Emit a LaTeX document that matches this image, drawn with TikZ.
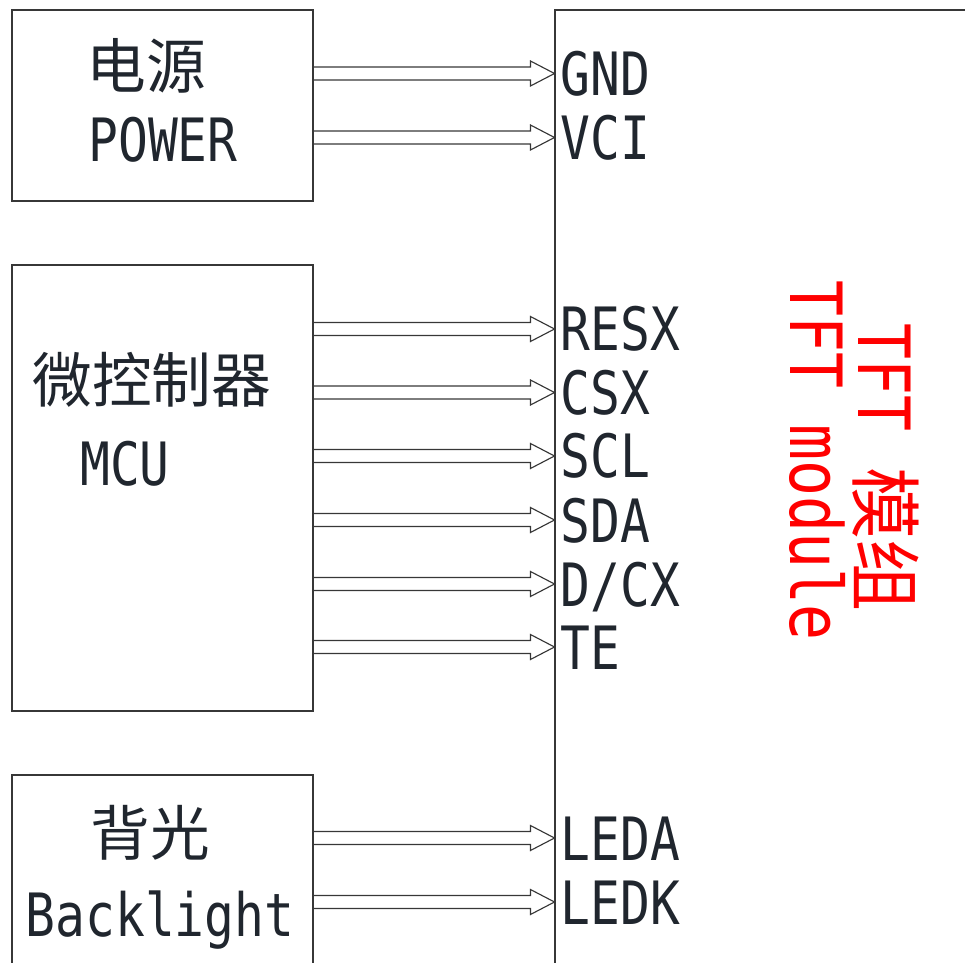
\documentclass[tikz,border=0pt]{standalone}
\usepackage{fontspec}
\usepackage{tikz}
\usetikzlibrary{calc,fit}
\definecolor{inkgray}{RGB}{32,38,46}
\definecolor{framegray}{RGB}{55,55,55}
\newfontfamily\monofont[FakeStretch=0.83]{DejaVu Sans Mono}
\newfontfamily\cjk{Noto Sans CJK SC}
\newcommand{\pinfont}{\monofont\fontsize{34}{40}\selectfont}
\newcommand{\hanfont}{\cjk\fontsize{34}{40}\selectfont}
\newcommand{\redfont}{\monofont\fontsize{41}{48}\selectfont}
\newcommand{\redhan}{\cjk\fontsize{41}{48}\selectfont}
% hollow bus arrow from tail coordinate #1 to tip coordinate #2
\newcommand{\busarrow}[2]{%
  \draw[bus] ($(#1)+(0,-6.5)$) -- ($(#2)+(-24,-6.5)$) -- ($(#2)+(-24,-12.5)$)
    -- (#2) -- ($(#2)+(-24,12.5)$) -- ($(#2)+(-24,6.5)$) -- ($(#1)+(0,6.5)$);}

\begin{document}
\begin{tikzpicture}[x=0.02cm, y=-0.02cm,
    box/.style={draw=framegray, line width=0.6pt, inner sep=0pt},
    pin/.style={anchor=base west, inner sep=0pt, text=inkgray, font=\pinfont},
    title/.style={inner sep=0pt, text=inkgray},
    bus/.style={draw=framegray, line width=0.65pt, line join=miter},
    tftlabel/.style={rotate=-90, anchor=base west, inner sep=0pt, text=red}
]
    \useasboundingbox (0,0) rectangle (965,963);
    \clip (0,0) rectangle (965,963);

    % blocks
    \node[box, fit={(12,10)(313,201)}] (power) {};
    \node[box, fit={(12,265)(313,711)}] (mcu) {};
    \node[box, fit={(12,775)(313,990)}] (backlight) {};
    \node[box, fit={(555,10)(990,990)}] (tft) {};

    \node[title, font=\hanfont] (power-zh) at (146,66) {电源};
    \node[title, font=\pinfont, anchor=base] (power-en) at (163,162) {POWER};
    \node[title, font=\hanfont] (mcu-zh) at (152,380) {微控制器};
    \node[title, font=\pinfont, anchor=base] (mcu-en) at (125,485) {MCU};
    \node[title, font=\hanfont] (backlight-zh) at (150,833) {背光};
    \node[title, font=\pinfont, anchor=base] (backlight-en) at (160,936) {Backlight};

    \node[tftlabel] (tft-zh) at (858,323) {\redfont TFT \redhan 模组};
    \node[tftlabel] (tft-en) at (790,280) {\redfont TFT module};

    % pins
    \foreach \pn/\txt/\src/\yy in {gnd/GND/power/73.5, vci/VCI/power/137.5,
        resx/RESX/mcu/329, csx/CSX/mcu/392.5, scl/SCL/mcu/456, sda/SDA/mcu/520,
        dcx/D\slash CX/mcu/584, te/TE/mcu/647,
        leda/LEDA/backlight/838, ledk/LEDK/backlight/902} {
        \coordinate (p-\pn) at (tft.west |- 0,\yy);
        \coordinate (t-\pn) at (\src.east |- p-\pn);
        \node[pin] (l-\pn) at ($(p-\pn)+(6,22)$) {\txt};
        \busarrow{t-\pn}{p-\pn}
    }
\end{tikzpicture}
\end{document}
